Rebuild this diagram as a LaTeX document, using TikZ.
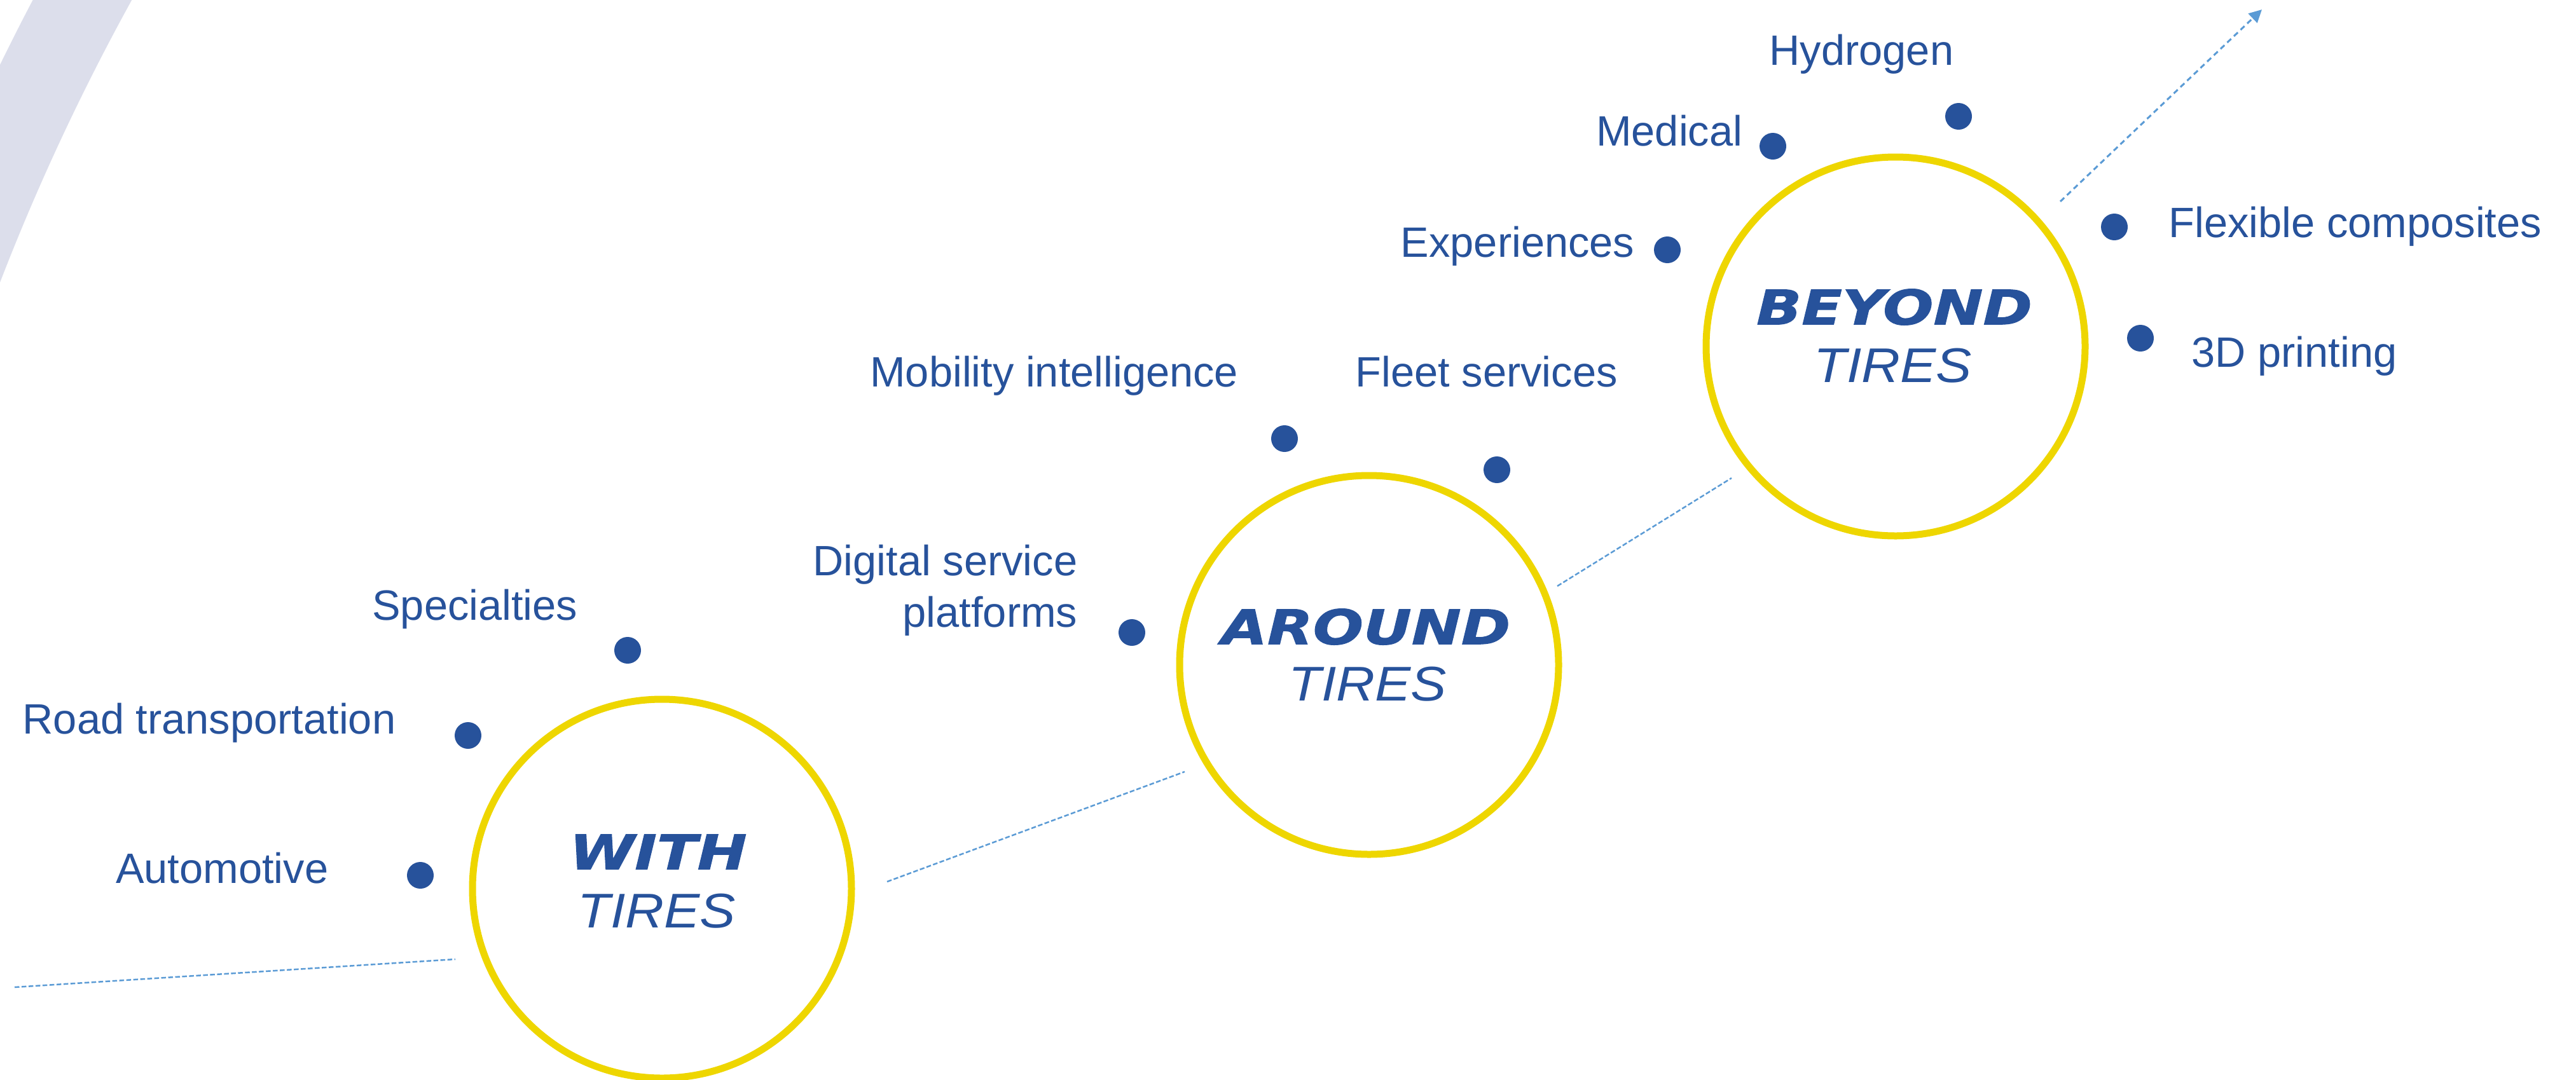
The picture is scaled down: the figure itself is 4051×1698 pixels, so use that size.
\documentclass[tikz,border=0pt]{standalone}
\usepackage{fontspec}
\setmainfont{Liberation Sans}
\newfontfamily\heavyfont{DejaVu Sans}[FakeStretch=1.24, FakeBold=1.5]
\newfontfamily\tiresfont{Liberation Sans}[FakeStretch=1.1]
\usepackage{tikz}
\usetikzlibrary{arrows.meta,calc,positioning}

\definecolor{michblue}{RGB}{39,82,155}
\definecolor{michyellow}{RGB}{238,214,0}
\definecolor{trailblue}{RGB}{91,155,213}
\definecolor{bandgray}{RGB}{220,222,235}

\begin{document}
\begin{tikzpicture}[
  x=0.1mm, y=-0.1mm,
  every node/.style={text=michblue, inner sep=0pt},
  ring/.style={circle, draw=michyellow, line width=1.1mm, minimum size=59.6mm},
  dot/.style={circle, fill=michblue, minimum size=4.2mm},
  itemtext/.style={font=\fontsize{19}{23}\selectfont},
  stagetext/.style={font=\heavyfont\bfseries\itshape\fontsize{21.4}{24}\selectfont},
  tirestext/.style={font=\tiresfont\itshape\fontsize{21.8}{24}\selectfont},
  trail/.style={trailblue, line width=0.25mm, dash pattern=on 0.75mm off 0.35mm},
  arrow/.style={trailblue, line width=0.3mm, dash pattern=on 0.85mm off 0.6mm, -{Triangle[length=2mm,width=2mm]}}
]
\useasboundingbox (0,0) rectangle (4051,1698);

% Background band
\begin{scope}
  \clip (0,0) rectangle (4051,1698);
  \draw[bandgray, line width=13.7mm] (3397,1756) circle [radius=370.9mm];
\end{scope}

% Stage circles
\node[ring] (with) at (1041,1398) {};
\node[ring] (around) at (2153,1046) {};
\node[ring] (beyond) at (2981,545) {};

\node[stagetext] (withword) at ($(with)+(-6,-58)$) {WITH};
\node[tirestext] (withtires) at ($(with)+(-8,35)$) {TIRES};
\node[stagetext] (aroundword) at ($(around)+(-5,-60)$) {AROUND};
\node[tirestext] (aroundtires) at ($(around)+(-2,30)$) {TIRES};
\node[stagetext] (beyondword) at ($(beyond)+(-2,-62)$) {BEYOND};
\node[tirestext] (beyondtires) at ($(beyond)+(-4,30)$) {TIRES};

% With tires
\node[dot] (autodot) at (661,1377) {};
\node[itemtext, anchor=mid east] (auto) at (517,1380) {Automotive};
\node[dot] (roaddot) at (736,1157) {};
\node[itemtext, anchor=mid east] (road) at (623,1145) {Road transportation};
\node[dot] (specdot) at (987,1023) {};
\node[itemtext, anchor=mid east] (spec) at (909,966) {Specialties};

% Around tires
\node[dot] (digidot) at (1780,995) {};
\node[itemtext, align=right, anchor=east] (digi) at (1695,929) {Digital service\\platforms};
\node[dot] (mobdot) at (2020,690) {};
\node[itemtext, anchor=mid east] (mob) at (1948,599) {Mobility intelligence};
\node[dot] (fleetdot) at (2354,739) {};
\node[itemtext, anchor=mid west] (fleet) at (2131,599) {Fleet services};

% Beyond tires
\node[dot] (expdot) at (2622,393) {};
\node[itemtext, anchor=mid east] (exp) at (2571,395) {Experiences};
\node[dot] (meddot) at (2788,230) {};
\node[itemtext, anchor=mid east] (med) at (2741,220) {Medical};
\node[dot] (h2dot) at (3080,183) {};
\node[itemtext, anchor=mid west] (h2) at (2782,93) {Hydrogen};
\node[dot] (flexdot) at (3325,357) {};
\node[itemtext, anchor=mid west] (flex) at (3410,364) {Flexible composites};
\node[dot] (printdot) at (3366,532) {};
\node[itemtext, anchor=mid west] (print) at (3446,568) {3D printing};

% Trail
\coordinate (start) at (23,1553);
\coordinate (ahead) at (3557,15);
\draw[trail] (start) -- ([shift={(-325,111)}]with.center);
\draw[trail] ([shift={(354,-11)}]with.center) -- ([shift={(-290,168)}]around.center);
\draw[trail] ([shift={(296,-124)}]around.center) -- ([shift={(-258,207)}]beyond.center);
\draw[arrow] ([shift={(259,-228)}]beyond.center) -- (ahead);

\end{tikzpicture}
\end{document}
